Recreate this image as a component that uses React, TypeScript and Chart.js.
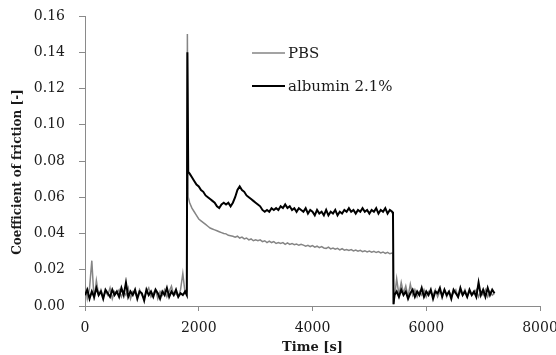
import React, { useEffect, useRef } from "react";
import { Chart, registerables } from "chart.js";

Chart.register(...registerables);

// Time samples [s]
const timesA = [0, 40, 80, 120, 160, 200, 240, 280, 320, 360, 400, 440, 480, 520, 560, 600, 640, 680, 720, 760, 800, 840, 880, 920, 960, 1000, 1040, 1080, 1120, 1160, 1200, 1240, 1280, 1320, 1360, 1400, 1440, 1480, 1520, 1560, 1600, 1640, 1680, 1720, 1760];
const timesUp = [1790, 1800, 1815];
const timesB = [1840, 1880, 1920, 1960, 2000, 2040, 2080, 2120, 2160, 2200, 2240, 2280, 2320, 2360, 2400, 2440, 2480, 2520, 2560, 2600, 2640, 2680, 2720, 2760, 2800, 2840, 2880, 2920, 2960, 3000, 3040, 3080, 3120, 3160, 3200, 3240, 3280, 3320, 3360, 3400, 3440, 3480, 3520, 3560, 3600, 3640, 3680, 3720, 3760, 3800, 3840, 3880, 3920, 3960, 4000, 4040, 4080, 4120, 4160, 4200, 4240, 4280, 4320, 4360, 4400, 4440, 4480, 4520, 4560, 4600, 4640, 4680, 4720, 4760, 4800, 4840, 4880, 4920, 4960, 5000, 5040, 5080, 5120, 5160, 5200, 5240, 5280, 5320, 5360, 5400];
const timesDown = [5415, 5425, 5440];
const timesC = [5480, 5520, 5560, 5600, 5640, 5680, 5720, 5760, 5800, 5840, 5880, 5920, 5960, 6000, 6040, 6080, 6120, 6160, 6200, 6240, 6280, 6320, 6360, 6400, 6440, 6480, 6520, 6560, 6600, 6640, 6680, 6720, 6760, 6800, 6840, 6880, 6920, 6960, 7000, 7040, 7080, 7120, 7160, 7200];

// albumin 2.1%
const albA = [0.006, 0.009, 0.004, 0.008, 0.005, 0.010, 0.006, 0.008, 0.004, 0.009, 0.007, 0.005, 0.009, 0.006, 0.008, 0.005, 0.010, 0.006, 0.013, 0.005, 0.008, 0.006, 0.009, 0.004, 0.008, 0.007, 0.003, 0.009, 0.006, 0.008, 0.005, 0.009, 0.007, 0.004, 0.008, 0.006, 0.010, 0.005, 0.008, 0.006, 0.009, 0.005, 0.007, 0.006, 0.008];
const albUp = [0.006, 0.140, 0.074];
const albB = [0.073, 0.071, 0.069, 0.067, 0.066, 0.064, 0.063, 0.061, 0.060, 0.059, 0.058, 0.057, 0.055, 0.054, 0.056, 0.057, 0.056, 0.057, 0.055, 0.057, 0.060, 0.064, 0.066, 0.064, 0.063, 0.061, 0.060, 0.059, 0.058, 0.057, 0.056, 0.055, 0.053, 0.052, 0.053, 0.052, 0.054, 0.053, 0.054, 0.053, 0.055, 0.054, 0.056, 0.054, 0.055, 0.053, 0.054, 0.052, 0.054, 0.053, 0.052, 0.054, 0.051, 0.053, 0.052, 0.050, 0.053, 0.051, 0.052, 0.050, 0.053, 0.050, 0.052, 0.051, 0.053, 0.050, 0.052, 0.051, 0.053, 0.052, 0.054, 0.052, 0.053, 0.051, 0.053, 0.052, 0.054, 0.052, 0.053, 0.051, 0.053, 0.052, 0.054, 0.051, 0.053, 0.052, 0.054, 0.051, 0.053, 0.052];
const albDown = [0.051, 0.001, 0.006];
const albC = [0.008, 0.005, 0.009, 0.006, 0.008, 0.004, 0.007, 0.009, 0.005, 0.008, 0.006, 0.010, 0.005, 0.008, 0.006, 0.009, 0.004, 0.008, 0.007, 0.010, 0.005, 0.009, 0.006, 0.008, 0.004, 0.009, 0.007, 0.005, 0.010, 0.006, 0.008, 0.005, 0.009, 0.006, 0.008, 0.005, 0.013, 0.006, 0.009, 0.005, 0.010, 0.006, 0.009, 0.007];

// PBS
const pbsA = [0.012, 0.004, 0.010, 0.025, 0.003, 0.014, 0.006, 0.009, 0.005, 0.008, 0.006, 0.010, 0.004, 0.008, 0.007, 0.009, 0.005, 0.008, 0.006, 0.010, 0.004, 0.008, 0.007, 0.005, 0.009, 0.006, 0.004, 0.008, 0.010, 0.005, 0.007, 0.009, 0.004, 0.008, 0.006, 0.009, 0.005, 0.008, 0.011, 0.006, 0.007, 0.005, 0.009, 0.018, 0.007];
const pbsUp = [0.008, 0.150, 0.060];
const pbsB = [0.057, 0.054, 0.052, 0.050, 0.048, 0.047, 0.046, 0.045, 0.044, 0.043, 0.0425, 0.042, 0.0415, 0.041, 0.0405, 0.040, 0.0398, 0.039, 0.0388, 0.0385, 0.038, 0.0385, 0.0375, 0.038, 0.037, 0.0375, 0.0365, 0.037, 0.036, 0.0365, 0.036, 0.0365, 0.0355, 0.036, 0.035, 0.0358, 0.035, 0.0355, 0.0345, 0.035, 0.0345, 0.035, 0.034, 0.0348, 0.034, 0.0345, 0.0338, 0.0342, 0.0335, 0.034, 0.0336, 0.033, 0.0335, 0.0328, 0.0333, 0.0325, 0.033, 0.0322, 0.0328, 0.032, 0.0318, 0.0325, 0.0315, 0.032, 0.0313, 0.0318, 0.031, 0.0316, 0.0308, 0.0312, 0.0306, 0.0311, 0.0304, 0.0309, 0.0302, 0.0307, 0.030, 0.0305, 0.0298, 0.0303, 0.0297, 0.0302, 0.0295, 0.030, 0.0293, 0.0298, 0.029, 0.0296, 0.0288, 0.0292];
const pbsDown = [0.029, 0.001, 0.004];
const pbsC = [0.015, 0.006, 0.013, 0.007, 0.011, 0.005, 0.012, 0.006, 0.009, 0.005, 0.008, 0.006, 0.009, 0.005, 0.008, 0.007, 0.006, 0.009, 0.005, 0.008, 0.006, 0.009, 0.005, 0.008, 0.006, 0.007, 0.009, 0.005, 0.008, 0.006, 0.009, 0.005, 0.008, 0.006, 0.007, 0.009, 0.005, 0.008, 0.006, 0.009, 0.005, 0.008, 0.006, 0.007];

const seriesNames = ["PBS", "albumin 2.1%"];
const xTicks = [0, 2000, 4000, 6000, 8000];
const yTitle = "Coefficient of friction [-]";
const xTitle = "Time [s]";

const times = [...timesA, ...timesUp, ...timesB, ...timesDown, ...timesC];
const albumin = [...albA, ...albUp, ...albB, ...albDown, ...albC];
const pbs = [...pbsA, ...pbsUp, ...pbsB, ...pbsDown, ...pbsC];

const FONT = "'DejaVu Serif', serif";
const TEXT = "#1a1a1a";
const AXIS = "#8a8a8a";
const GRAY = "#858585";

const legendPlugin = {
  id: "customLegend",
  afterDraw(chart: any) {
    const ctx = chart.ctx;
    const items = [
      { label: seriesNames[0], color: GRAY, width: 1.3, y: 53 },
      { label: seriesNames[1], color: "#000000", width: 2, y: 86 },
    ];
    ctx.save();
    ctx.font = `15px ${FONT}`;
    ctx.textBaseline = "middle";
    ctx.textAlign = "left";
    for (const it of items) {
      ctx.strokeStyle = it.color;
      ctx.lineWidth = it.width;
      ctx.beginPath();
      ctx.moveTo(252, it.y);
      ctx.lineTo(285, it.y);
      ctx.stroke();
      ctx.fillStyle = TEXT;
      ctx.fillText(it.label, 288, it.y + 1);
    }
    // y axis title (slightly below the axis centre, as in the reference)
    ctx.translate(18, 172);
    ctx.rotate(-Math.PI / 2);
    ctx.textAlign = "center";
    ctx.font = `bold 12px ${FONT}`;
    ctx.fillText(yTitle, 0, 0);
    ctx.restore();
  },
};

export default function App() {
  const ref = useRef<HTMLCanvasElement>(null);
  useEffect(() => {
    document.body.style.margin = "0";
    const canvas = ref.current!;
    const chart = new Chart(canvas, {
      type: "line",
      data: {
        datasets: [
          {
            label: seriesNames[1],
            data: times.map((t, i) => ({ x: t, y: albumin[i] })),
            borderColor: "#000000",
            borderWidth: 2,
            pointRadius: 0,
            tension: 0,
          },
          {
            label: seriesNames[0],
            data: times.map((t, i) => ({ x: t, y: pbs[i] })),
            borderColor: GRAY,
            borderWidth: 1.5,
            pointRadius: 0,
            tension: 0,
          },
        ],
      },
      options: {
        animation: false,
        responsive: false,
        devicePixelRatio: 1,
        layout: { padding: { left: 0, top: 16, right: 16, bottom: 0 } },
        plugins: { legend: { display: false }, tooltip: { enabled: false } },
        scales: {
          x: {
            type: "linear",
            min: 0,
            max: 8000,
            afterBuildTicks: (s: any) => {
              s.ticks = xTicks.map((v) => ({ value: v }));
            },
            afterFit: (s: any) => {
              s.height = 49;
              s.paddingLeft = 0;
              s.paddingRight = 0;
            },
            ticks: {
              color: TEXT,
              font: { family: FONT, size: 14 },
              padding: 9,
              maxRotation: 0,
              callback: (v: any) => String(v),
            },
            grid: { drawOnChartArea: false, color: AXIS, tickLength: 5 },
            border: { color: AXIS, width: 1 },
            title: {
              display: true,
              text: xTitle,
              color: TEXT,
              font: { family: FONT, size: 13, weight: "bold" },
              padding: { top: 0, bottom: 0 },
            },
          },
          y: {
            min: 0,
            max: 0.16,
            ticks: {
              stepSize: 0.02,
              color: TEXT,
              font: { family: FONT, size: 14 },
              padding: 14,
              callback: (v: any) => Number(v).toFixed(2),
            },
            afterFit: (s: any) => {
              s.width = 85;
              s.paddingTop = 0;
              s.paddingBottom = 0;
            },
            grid: { drawOnChartArea: false, color: AXIS, tickLength: 6 },
            border: { color: AXIS, width: 1 },
            title: { display: false },
          },
        },
      },
      plugins: [legendPlugin],
    });
    return () => chart.destroy();
  }, []);
  return (
    <div style={{ position: "fixed", left: 0, top: 0, width: 556, height: 355, background: "#fff" }}>
      <canvas ref={ref} width={556} height={355} style={{ width: 556, height: 355 }} />
    </div>
  );
}
